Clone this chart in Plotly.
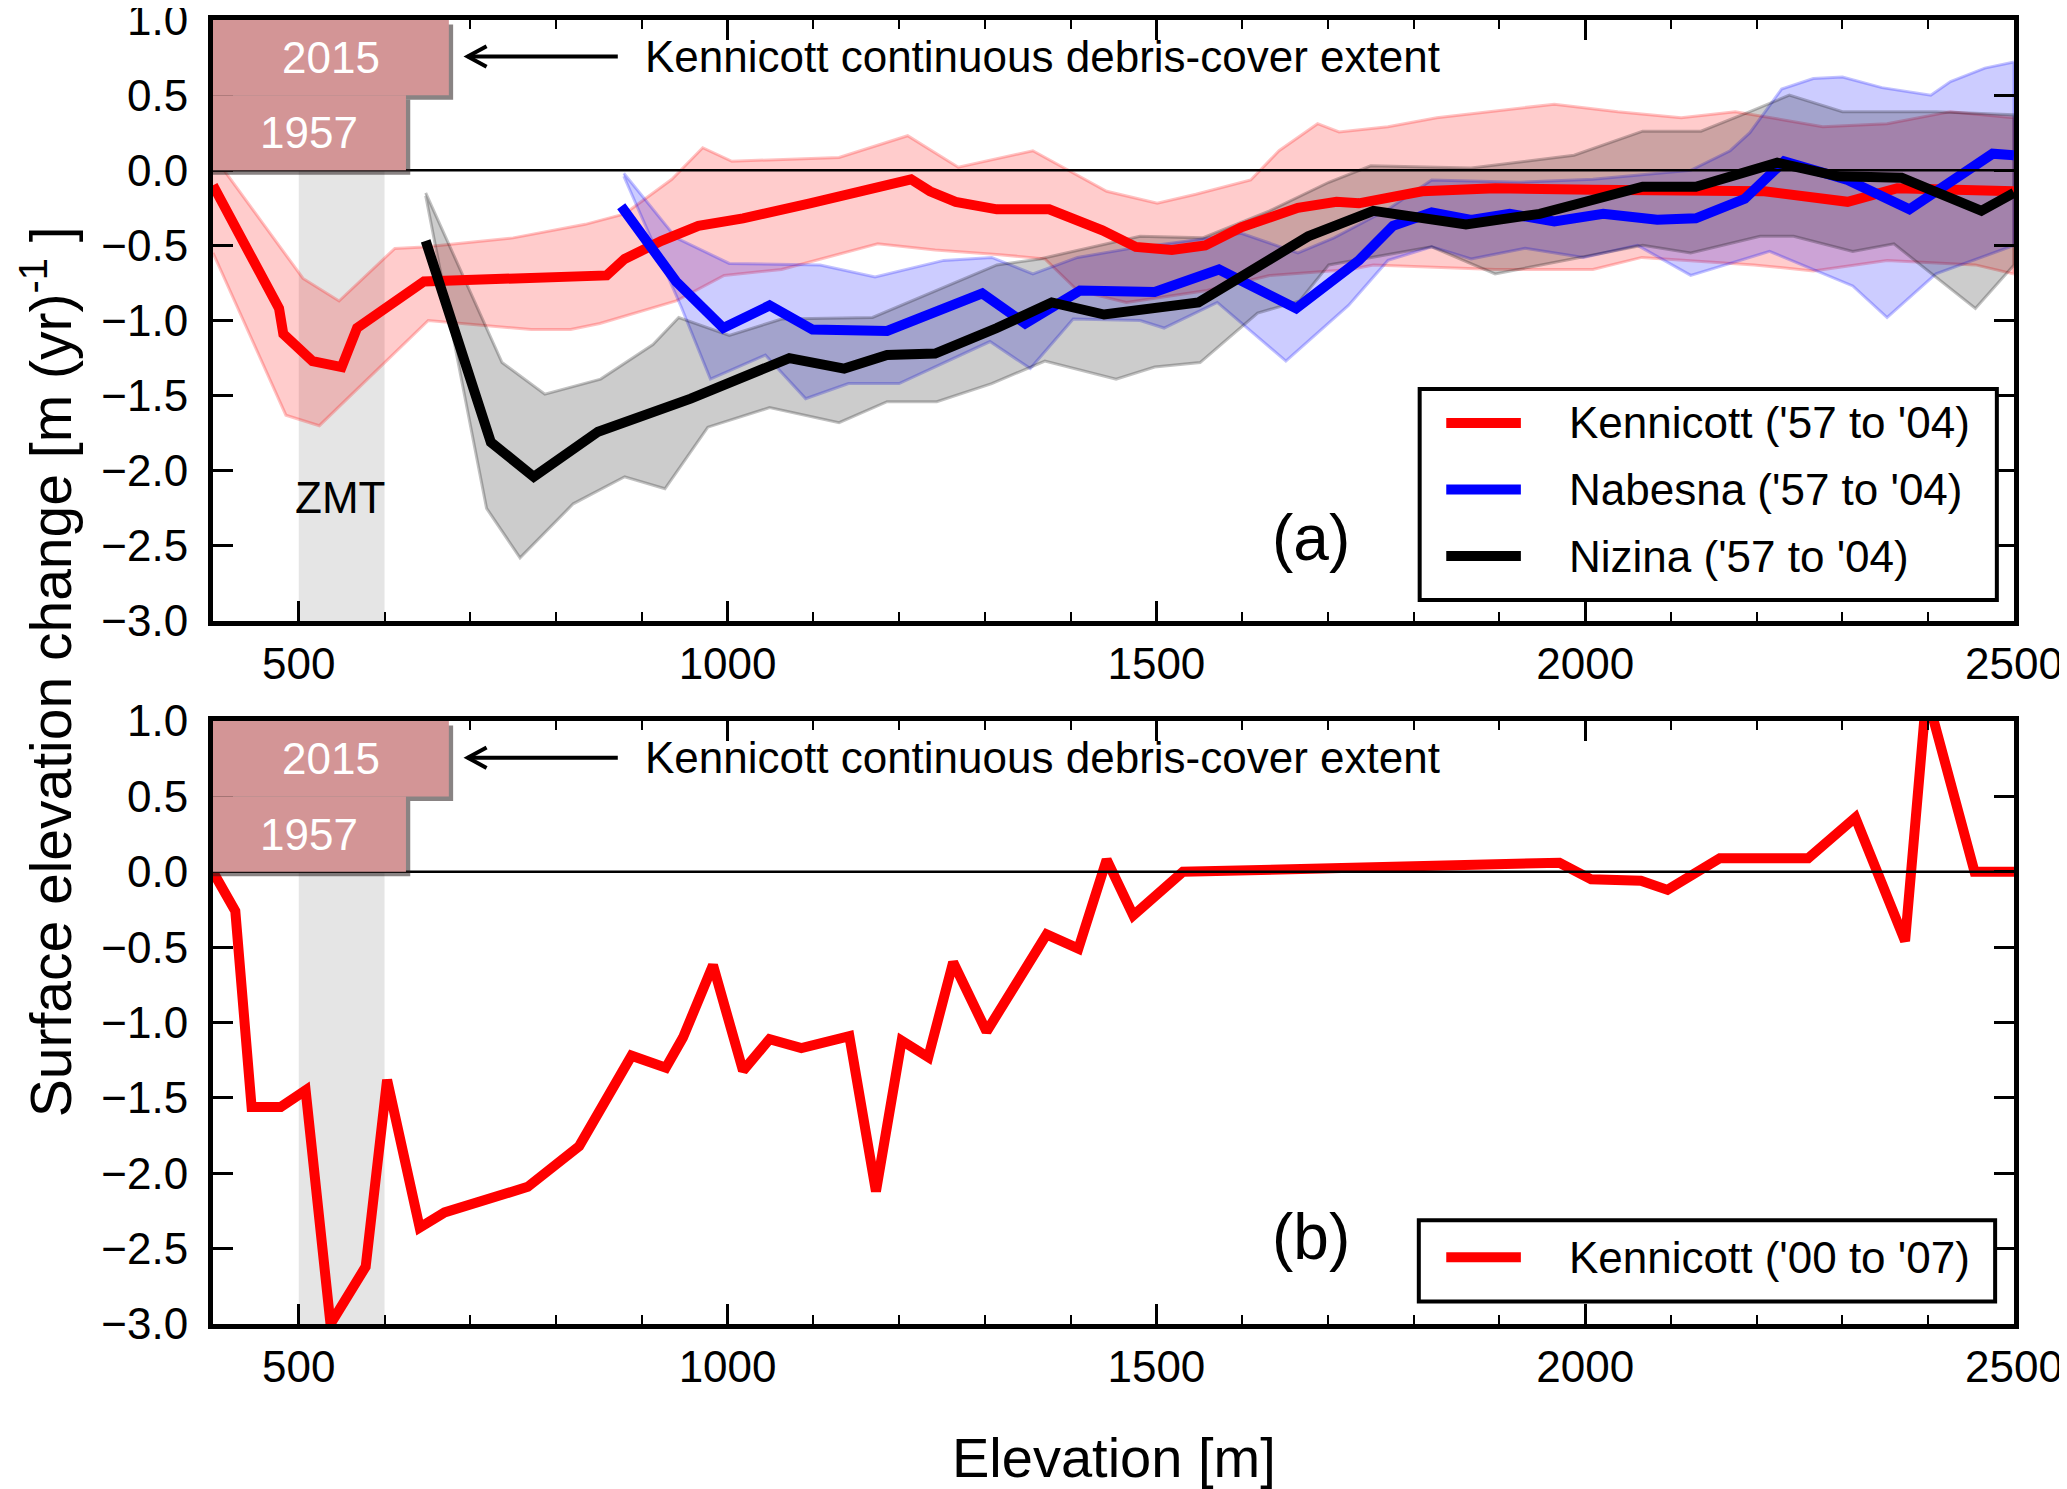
import plotly.graph_objects as go
from plotly.subplots import make_subplots

# ---- data (a): 1957 -> 2004 thinning profiles ----
kenn_x = [400, 477, 482, 516, 550, 568, 646, 859, 880, 923, 966, 1018, 1096, 1174, 1214, 1236,
          1266, 1314, 1375, 1437, 1476, 1518, 1557, 1599, 1665, 1710, 1736, 1810, 1895, 2009,
          2209, 2306, 2364, 2500]
kenn_y = [-0.10, -0.92, -1.09, -1.27, -1.31, -1.05, -0.74, -0.70, -0.59, -0.47, -0.37, -0.32,
          -0.22, -0.12, -0.06, -0.14, -0.21, -0.26, -0.26, -0.40, -0.51, -0.53, -0.50, -0.38,
          -0.25, -0.21, -0.22, -0.14, -0.12, -0.13, -0.14, -0.21, -0.12, -0.14]
kenn_hi_x = [400, 505, 547, 612, 646, 750, 834, 880, 935, 971, 1005, 1130, 1210, 1269, 1356,
             1442, 1501, 1546, 1610, 1643, 1688, 1713, 1770, 1827, 1964, 2038, 2112, 2175,
             2277, 2352, 2426, 2500]
kenn_hi_y = [0.10, -0.72, -0.87, -0.52, -0.51, -0.45, -0.36, -0.29, -0.06, 0.15, 0.06, 0.085,
             0.23, 0.02, 0.13, -0.14, -0.22, -0.16, -0.065, 0.13, 0.31, 0.255, 0.29, 0.35,
             0.44, 0.39, 0.35, 0.39, 0.29, 0.31, 0.39, 0.35]
kenn_lo_x = [400, 485, 524, 651, 771, 817, 851, 940, 996, 1063, 1175, 1242, 1314, 1370, 1408,
             1465, 1559, 1632, 1726, 1753, 1895, 2009, 2066, 2197, 2266, 2352, 2455, 2500]
kenn_lo_y = [-0.55, -1.63, -1.70, -1.00, -1.06, -1.06, -1.02, -0.87, -0.70, -0.66, -0.49,
             -0.53, -0.56, -0.59, -0.80, -0.88, -0.80, -0.70, -0.66, -0.63, -0.66, -0.66,
             -0.58, -0.63, -0.67, -0.60, -0.63, -0.69]

nabe_x = [876, 940, 995, 1049, 1099, 1186, 1297, 1347, 1411, 1498, 1573, 1663, 1736, 1776,
          1821, 1867, 1912, 1964, 2021, 2084, 2129, 2186, 2232, 2306, 2378, 2426, 2475, 2500]
nabe_y = [-0.24, -0.74, -1.05, -0.90, -1.06, -1.07, -0.82, -1.02, -0.80, -0.81, -0.66, -0.92,
          -0.60, -0.37, -0.28, -0.33, -0.29, -0.34, -0.29, -0.33, -0.32, -0.19, 0.06, -0.065,
          -0.26, -0.08, 0.11, 0.10]
nabe_hi_x = [879, 940, 1002, 1108, 1172, 1252, 1308, 1356, 1408, 1470, 1537, 1599, 1665, 1707,
             1770, 1821, 1924, 2009, 2123, 2169, 2192, 2229, 2266, 2300, 2346, 2403, 2426,
             2466, 2500]
nabe_hi_y = [-0.02, -0.45, -0.62, -0.63, -0.71, -0.60, -0.58, -0.69, -0.58, -0.52, -0.47,
             -0.42, -0.55, -0.45, -0.26, -0.065, -0.08, -0.06, 0.0, 0.13, 0.25, 0.54, 0.61,
             0.62, 0.55, 0.50, 0.59, 0.68, 0.72]
nabe_lo_x = [879, 946, 980, 1044, 1091, 1141, 1200, 1306, 1353, 1403, 1481, 1509, 1571, 1651,
             1724, 1770, 1821, 1867, 1930, 1998, 2061, 2123, 2215, 2312, 2352, 2409, 2500]
nabe_lo_y = [-0.04, -0.91, -1.39, -1.23, -1.52, -1.42, -1.42, -1.14, -1.32, -0.99, -1.00,
             -1.05, -0.88, -1.27, -0.90, -0.60, -0.51, -0.59, -0.52, -0.58, -0.50, -0.70,
             -0.54, -0.77, -0.98, -0.69, -0.50]

nizi_x = [648, 724, 774, 849, 957, 1072, 1136, 1186, 1242, 1314, 1378, 1439, 1549, 1632, 1677,
          1753, 1861, 1947, 2067, 2129, 2224, 2295, 2369, 2462, 2500]
nizi_y = [-0.47, -1.81, -2.04, -1.74, -1.52, -1.25, -1.32, -1.23, -1.22, -1.05, -0.88, -0.96,
          -0.88, -0.59, -0.44, -0.27, -0.36, -0.29, -0.11, -0.11, 0.05, -0.04, -0.05, -0.27,
          -0.15]
nizi_hi_x = [648, 737, 787, 852, 913, 943, 1002, 1063, 1169, 1314, 1364, 1481, 1554, 1632,
             1701, 1750, 1867, 1987, 2067, 2135, 2192, 2238, 2300, 2409, 2500]
nizi_hi_y = [-0.15, -1.28, -1.49, -1.39, -1.16, -0.98, -1.10, -0.99, -0.98, -0.63, -0.59,
             -0.44, -0.45, -0.27, -0.08, 0.03, 0.015, 0.10, 0.26, 0.26, 0.39, 0.50, 0.39,
             0.39, 0.37]
nizi_lo_x = [648, 719, 758, 820, 880, 927, 977, 1049, 1130, 1186, 1244, 1308, 1370, 1453, 1498,
             1551, 1618, 1667, 1701, 1821, 1895, 2067, 2123, 2204, 2243, 2312, 2360, 2455,
             2500]
nizi_lo_y = [-0.17, -2.25, -2.58, -2.22, -2.04, -2.12, -1.71, -1.58, -1.68, -1.54, -1.54,
             -1.42, -1.27, -1.39, -1.31, -1.28, -0.95, -0.87, -0.63, -0.51, -0.69, -0.50,
             -0.55, -0.44, -0.44, -0.54, -0.49, -0.92, -0.63]

# ---- data (b): Kennicott 2000 -> 2007 ----
kenn07_x = [400, 426, 445, 479, 508, 537, 578, 603, 641, 670, 767, 827, 888, 928, 948, 983,
            1018, 1049, 1086, 1142, 1173, 1203, 1234, 1263, 1302, 1372, 1409, 1442, 1473,
            1531, 1970, 2007, 2065, 2096, 2157, 2260, 2315, 2373, 2398, 2454, 2500]
kenn07_y = [0.0, -0.26, -1.56, -1.56, -1.45, -3.0, -2.62, -1.38, -2.36, -2.26, -2.09, -1.82,
            -1.22, -1.30, -1.10, -0.62, -1.32, -1.11, -1.17, -1.09, -2.12, -1.12, -1.23,
            -0.60, -1.06, -0.415, -0.51, 0.08, -0.29, 0.0, 0.06, -0.05, -0.06, -0.12, 0.09,
            0.09, 0.36, -0.46, 1.18, 0.0, 0.0]

legend_a = ["Kennicott ('57 to '04)", "Nabesna ('57 to '04)", "Nizina ('57 to '04)"]
legend_b = ["Kennicott ('00 to '07)"]
y_ticks = [-3.0, -2.5, -2.0, -1.5, -1.0, -0.5, 0.0, 0.5, 1.0]
x_ticks = [500, 1000, 1500, 2000, 2500]

FONT = "Liberation Sans, Arial, sans-serif"
RED, BLUE, BLACK = "#ff0000", "#0000ff", "#000000"
LW = 10


def band(xs_hi, ys_hi, xs_lo, ys_lo, fill, edge):
    # closed polygon between the upper and lower envelope
    return go.Scatter(
        x=xs_hi + xs_lo[::-1], y=ys_hi + ys_lo[::-1],
        mode="lines", fill="toself", fillcolor=fill,
        line=dict(color=edge, width=3), hoverinfo="skip", showlegend=False)


fig = make_subplots(rows=2, cols=1)

fig.add_trace(band(kenn_hi_x, kenn_hi_y, kenn_lo_x, kenn_lo_y,
                   "rgba(255,0,0,0.2)", "rgba(255,0,0,0.24)"), row=1, col=1)
fig.add_trace(band(nabe_hi_x, nabe_hi_y, nabe_lo_x, nabe_lo_y,
                   "rgba(0,0,255,0.2)", "rgba(0,0,255,0.24)"), row=1, col=1)
fig.add_trace(band(nizi_hi_x, nizi_hi_y, nizi_lo_x, nizi_lo_y,
                   "rgba(0,0,0,0.2)", "rgba(0,0,0,0.24)"), row=1, col=1)

for xs, ys, col, name in [(kenn_x, kenn_y, RED, legend_a[0]),
                          (nabe_x, nabe_y, BLUE, legend_a[1]),
                          (nizi_x, nizi_y, BLACK, legend_a[2])]:
    fig.add_trace(go.Scatter(x=xs, y=ys, mode="lines", name=name,
                             line=dict(color=col, width=LW), showlegend=False), row=1, col=1)

fig.add_trace(go.Scatter(x=kenn07_x, y=kenn07_y, mode="lines", name=legend_b[0],
                         line=dict(color=RED, width=LW), showlegend=False), row=2, col=1)

axis_common = dict(showline=True, linewidth=5, linecolor="black", mirror="ticks",
                   ticks="inside", ticklen=20, tickwidth=2.5, tickcolor="black",
                   showgrid=False, zeroline=False, automargin=False,
                   ticklabeloverflow="allow",
                   tickfont=dict(family=FONT, size=44, color="black"))

for r in (1, 2):
    fig.update_xaxes(range=[400, 2500], tickvals=x_ticks,
                     minor=dict(ticks="inside", ticklen=9, tickwidth=2, dtick=100,
                                tick0=400, tickcolor="black", showgrid=False),
                     row=r, col=1, **axis_common)
    fig.update_yaxes(range=[-3, 1], tickvals=y_ticks, tickformat=".1f",
                     ticklabelstandoff=11, row=r, col=1, **axis_common)

# page body adds an 8 px offset, so the figure is 8 px smaller than the window
fig.update_layout(
    width=2059, height=1481,
    margin=dict(l=205, r=53, t=12, b=165),
    paper_bgcolor="white", plot_bgcolor="white",
    font=dict(family=FONT, size=44, color="black"),
    showlegend=False,
    xaxis=dict(domain=[0, 1]), xaxis2=dict(domain=[0, 1]),
    yaxis=dict(domain=[0.5391, 1.0]), yaxis2=dict(domain=[0.0, 0.4624]),
)

BOX = "#d39596"
for xr, yr in (("x", "y"), ("x2", "y2")):
    # ZMT shading, zero line
    fig.add_shape(type="rect", xref=xr, yref=yr, x0=500, x1=600, y0=-3, y1=0,
                  fillcolor="#e5e5e5", line_width=0, layer="below")
    fig.add_shape(type="line", xref=xr, yref=yr, x0=400, x1=2500, y0=0, y1=0,
                  line=dict(color="black", width=2.5), layer="above")
    # debris-cover extent boxes with shadow
    for x1, y0, y1, label in ((675, 0.5, 1.0, "2015"), (625, 0.0, 0.5, "1957")):
        fig.add_shape(type="rect", xref=xr, yref=yr, x0=400, x1=x1 + 5, y0=y0 - 0.03,
                      y1=y1 - 0.03, fillcolor="rgba(40,30,30,0.55)", line_width=0,
                      layer="above")
        fig.add_shape(type="rect", xref=xr, yref=yr, x0=400, x1=x1, y0=y0, y1=y1,
                      fillcolor=BOX, line_width=0, layer="above")
        fig.add_annotation(xref=xr, yref=yr, x=(400 + x1) / 2, y=(y0 + y1) / 2,
                           text=label, showarrow=False,
                           font=dict(family=FONT, size=44, color="white"))
    # arrow pointing at the boxes
    fig.add_shape(type="line", xref=xr, yref=yr, x0=872, x1=697, y0=0.757, y1=0.757,
                  line=dict(color="black", width=4), layer="above")
    fig.add_shape(type="path", xref=xr, yref=yr,
                  path="M 719,0.825 L 697,0.757 L 719,0.689",
                  line=dict(color="black", width=4), layer="above")
    fig.add_annotation(xref=xr, yref=yr, x=901, y=0.76, xanchor="left",
                       text="Kennicott continuous debris-cover extent", showarrow=False,
                       font=dict(family=FONT, size=44, color="black"))

fig.add_annotation(xref="x", yref="y", x=548, y=-2.18, text="ZMT", showarrow=False,
                   font=dict(family=FONT, size=44, color="black"))
fig.add_annotation(xref="x", yref="y", x=1680, y=-2.45, text="(a)", showarrow=False,
                   font=dict(family=FONT, size=64, color="black"))
fig.add_annotation(xref="x2", yref="y2", x=1680, y=-2.42, text="(b)", showarrow=False,
                   font=dict(family=FONT, size=64, color="black"))

# hand-drawn legends in the style of the original
fig.add_shape(type="rect", xref="x", yref="y", x0=1807, x1=2480, y0=-2.86, y1=-1.456,
              fillcolor="white", line=dict(color="black", width=4), layer="above")
for i, (name, col) in enumerate(zip(legend_a, [RED, BLUE, BLACK])):
    yy = -1.682 - 0.443 * i
    fig.add_shape(type="line", xref="x", yref="y", x0=1838, x1=1925, y0=yy, y1=yy,
                  line=dict(color=col, width=LW), layer="above")
    fig.add_annotation(xref="x", yref="y", x=1979, y=yy, xanchor="left", text=name,
                       showarrow=False, font=dict(family=FONT, size=44, color="black"))

fig.add_shape(type="rect", xref="x2", yref="y2", x0=1806, x1=2478, y0=-2.85, y1=-2.312,
              fillcolor="white", line=dict(color="black", width=4), layer="above")
fig.add_shape(type="line", xref="x2", yref="y2", x0=1838, x1=1925, y0=-2.558, y1=-2.558,
              line=dict(color=RED, width=LW), layer="above")
fig.add_annotation(xref="x2", yref="y2", x=1979, y=-2.558, xanchor="left", text=legend_b[0],
                   showarrow=False, font=dict(family=FONT, size=44, color="black"))

# shared axis titles
fig.add_annotation(xref="paper", yref="paper", x=0.5, y=-0.102, yanchor="middle",
                   xanchor="center", text="Elevation [m]", showarrow=False,
                   font=dict(family=FONT, size=56, color="black"))
fig.add_annotation(xref="paper", yref="paper", x=-0.092, y=0.5, textangle=-90,
                   xanchor="center", yanchor="middle",
                   text="Surface elevation change [m (yr)<sup>-1</sup> ]", showarrow=False,
                   font=dict(family=FONT, size=57, color="black"))

fig.write_html("out.html")
